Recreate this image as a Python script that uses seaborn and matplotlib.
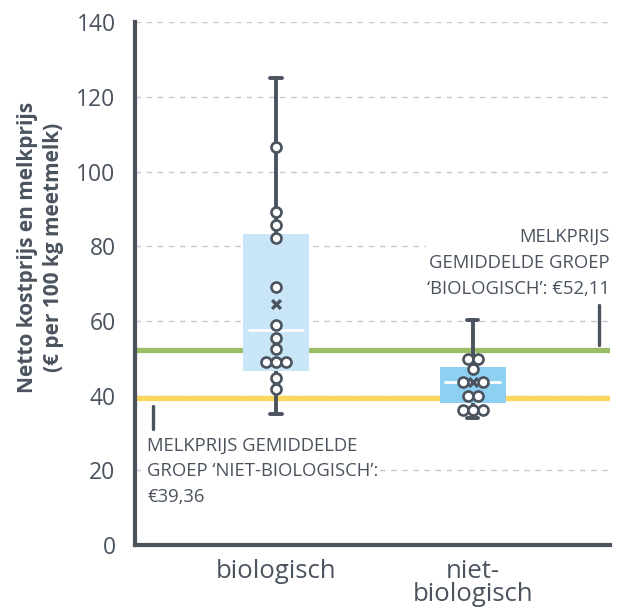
import numpy as np
import pandas as pd
import matplotlib.pyplot as plt
import seaborn as sns

# Data
categories = ['biologisch', 'niet-\nbiologisch']
bio_points = [106.6, 89.1, 85.6, 82.1, 69.0, 58.9, 55.3, 52.6, 49.0, 49.0, 49.0, 44.6, 41.7]
niet_points = [49.8, 49.8, 47.1, 43.7, 43.7, 39.9, 39.9, 36.1, 36.1, 36.1]
q1 = [46.6, 38.1]
medians = [57.5, 43.7]
q3 = [83.2, 47.6]
whisk_lo = [35.0, 34.0]
whisk_hi = [125.0, 60.2]
means = [64.5, 43.7]
price_bio = 52.11
price_niet = 39.36
yticks = [0, 20, 40, 60, 80, 100, 120, 140]

dark = '#4a535e'
box_colors = ['#c9e6f8', '#8ed0f2']
green = '#9bbd68'
yellow = '#fbd75b'


def spread(values, mean, step):
    # spread identical values side by side, leave the middle free for the mean marker
    counts = pd.Series(values).value_counts()
    seen = {}
    out = []
    for v in values:
        k = counts[v]
        i = seen.get(v, 0)
        seen[v] = i + 1
        if v == mean and k % 2 == 0:
            slots = [s for s in range(-(k // 2), k // 2 + 1) if s != 0]
            out.append(slots[i] * step)
        else:
            out.append((i - (k - 1) / 2) * step)
    return out


sns.set_style('white')
plt.rcParams['font.family'] = ['Open Sans', 'DejaVu Sans']

fig = plt.figure(figsize=(6.25, 6.08), dpi=100)
ax = fig.add_axes([0.216, 0.1036, 0.76, 0.86])

# gridlines
for t in yticks[1:]:
    ax.axhline(t, color='#c6cad0', lw=1, ls=(0, (4, 4)), zorder=0)

# average milk price lines
ax.axhline(price_bio, color=green, lw=3.8, zorder=1)
ax.axhline(price_niet, color=yellow, lw=3.8, zorder=1)

# boxes
stats = []
for i in range(len(categories)):
    stats.append(dict(q1=q1[i], med=medians[i], q3=q3[i], whislo=whisk_lo[i],
                      whishi=whisk_hi[i], fliers=[]))
bp = ax.bxp(stats, positions=[0, 1], widths=0.337, patch_artist=True,
            showfliers=False, capwidths=0.06,
            boxprops=dict(linewidth=0),
            whiskerprops=dict(color=dark, linewidth=2.8),
            capprops=dict(color=dark, linewidth=2.8),
            medianprops=dict(color='white', linewidth=2))
for patch, c in zip(bp['boxes'], box_colors):
    patch.set_facecolor(c)
    patch.set_zorder(2)
for k in ['whiskers', 'caps']:
    for l in bp[k]:
        l.set_zorder(1.5)
for l in bp['medians']:
    l.set_zorder(3)
    x0, x1 = l.get_xdata()[:2]
    l.set_xdata([x0 + 0.025, x1 - 0.025])

# individual points
step = 0.051
xs = list(np.add(0, spread(bio_points, means[0], step))) + \
     list(np.add(1, spread(niet_points, means[1], step)))
df = pd.DataFrame({'x': xs, 'waarde': bio_points + niet_points})
sns.scatterplot(data=df, x='x', y='waarde', ax=ax, s=52, color='white',
                edgecolor=dark, linewidth=1.9, zorder=4)

# means
sns.scatterplot(x=[0, 1], y=means, marker='x', s=40, color=dark, linewidth=2.4,
                ax=ax, zorder=5)

ax.set_xlim(-0.72, 1.70)
ax.set_ylim(0, 140)
ax.set_yticks(yticks)
ax.set_xticks([0, 1])
ax.set_xticklabels(categories, fontsize=18.5, color=dark, linespacing=0.9)
ax.tick_params(axis='y', labelsize=16.5, colors=dark, length=8, width=3, pad=6)
ax.tick_params(axis='x', length=0, pad=10)
for s in ['top', 'right']:
    ax.spines[s].set_visible(False)
for s in ['left', 'bottom']:
    ax.spines[s].set_color(dark)
    ax.spines[s].set_linewidth(3)
ax.set_xlabel('')
ax.set_ylabel('Netto kostprijs en melkprijs\n(€ per 100 kg meetmelk)',
              fontsize=15, fontweight='bold', color=dark, linespacing=1.3)
ax.yaxis.set_label_coords(-0.15, 0.57)

# annotations
ax.plot([1.643, 1.643], [53.5, 64.2], color=dark, lw=2.4, zorder=3)
ax.text(1.70, 85.0, 'MELKPRIJS\nGEMIDDELDE GROEP\n‘BIOLOGISCH’: €52,11',
        ha='right', va='top', fontsize=13.3, color=dark, linespacing=1.6,
        bbox=dict(facecolor='white', edgecolor='none', pad=1), zorder=3)
ax.plot([-0.628, -0.628], [31, 37.2], color=dark, lw=2.4, zorder=3)
ax.text(-0.658, 29.0, 'MELKPRIJS GEMIDDELDE\nGROEP ‘NIET-BIOLOGISCH’:\n€39,36',
        ha='left', va='top', fontsize=13.3, color=dark, linespacing=1.55,
        bbox=dict(facecolor='white', edgecolor='none', pad=1), zorder=3)

fig.savefig('out.png', dpi=100)
